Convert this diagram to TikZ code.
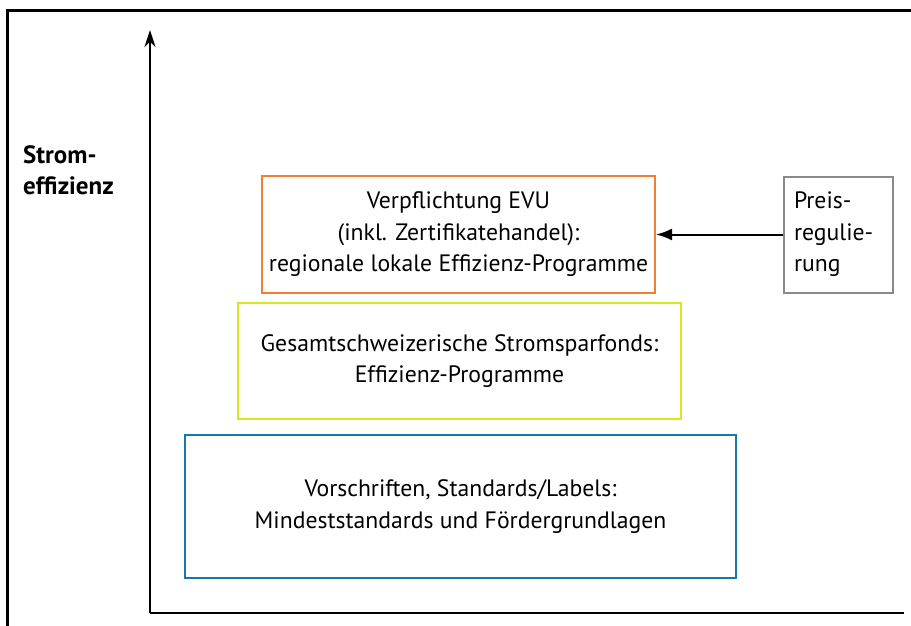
\documentclass[tikz,border=0pt]{standalone}
\usepackage{fontspec}
\setmainfont{PT Sans}
\usetikzlibrary{arrows.meta, positioning}
\definecolor{evuorange}{RGB}{240,127,50}
\definecolor{fondsgruen}{RGB}{214,232,30}
\definecolor{vorschriftblau}{RGB}{24,120,174}
\definecolor{preisgrau}{RGB}{138,138,138}
\tikzset{
  stufe/.style={draw, line width=2pt, align=center, inner sep=0pt, font=\fontsize{23.7}{31.5}\selectfont},
  achse/.style={line width=2.5pt},
}

\begin{document}
\begin{tikzpicture}[x=1pt, y=-1pt]
        \useasboundingbox (0,0) rectangle (911,626);
        \draw[line width=3pt] (7,626) -- (7,11) -- (911,11);

        \coordinate (O) at (150,613);
        \coordinate (Ytop) at (150,30);
        \coordinate (Xend) at (904,613);
        \draw[achse, -{Stealth[length=17pt, width=11pt]}] (O) -- (Ytop);
        \draw[achse, line width=2pt] (O) -- (Xend);
        \node[font=\bfseries\fontsize{25}{31}\selectfont, align=left, anchor=north west, inner sep=0pt] (ylabel) at (23,145) {Strom-\\effizienz};

        \node[stufe, draw=vorschriftblau, minimum width=551pt, minimum height=143pt] (vorschriften) at (460.5,506.5) {Vorschriften, Standards/Labels:\\Mindeststandards und Fördergrundlagen};
        \node[stufe, draw=fondsgruen, minimum width=443pt, minimum height=116pt] (fonds) at (459.5,361) {Gesamtschweizerische Stromsparfonds:\\Effizienz-Programme};
        \node[stufe, draw=evuorange, minimum width=393pt, minimum height=117pt] (evu) at (458.5,234.5) {Verpflichtung EVU\\(inkl. Zertifikatehandel):\\regionale lokale Effizienz-Programme};
        \node[stufe, draw=preisgrau, align=left, text width=89pt, inner xsep=10pt, minimum width=109pt, minimum height=116pt] (preis) at (838.5,234.5) {Preis-\\regulie-\\rung};

        \draw[line width=2pt, -{Latex[length=16pt, width=12pt]}] (preis) -- (evu);
\end{tikzpicture}
\end{document}
